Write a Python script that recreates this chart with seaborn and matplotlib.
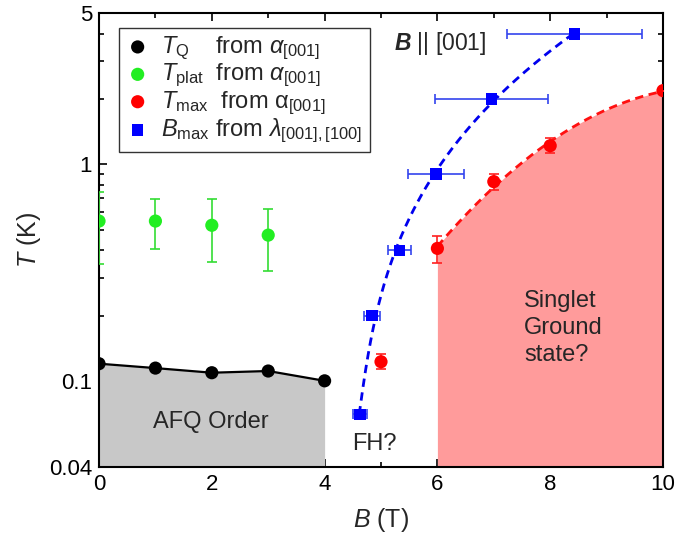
import numpy as np
import pandas as pd
import matplotlib
matplotlib.use("Agg")
import matplotlib.pyplot as plt
import seaborn as sns

# ---- data ----
tq_B = [0, 1, 2, 3, 4]
tq_T = [0.12, 0.1145, 0.109, 0.111, 0.100]

tp_B = [0, 1, 2, 3]
tp_T = [0.547, 0.547, 0.523, 0.471]
tp_lo = [0.346, 0.405, 0.354, 0.321]
tp_hi = [0.746, 0.689, 0.692, 0.620]

tm_B = [5, 6, 7, 8, 10]
tm_T = [0.1225, 0.409, 0.832, 1.219, 2.19]
tm_lo = [0.113, 0.349, 0.761, 1.124, 2.19]
tm_hi = [0.1325, 0.468, 0.899, 1.318, 2.19]

bm_B = [4.63, 4.835, 5.325, 5.975, 6.956, 8.43]
bm_T = [0.070, 0.200, 0.400, 0.900, 2.00, 4.00]
bm_xerr = [0.13, 0.145, 0.2, 0.5, 1.0, 1.2]

x_ticks = [0, 2, 4, 6, 8, 10]
y_ticks = [0.04, 0.1, 1, 5]
y_ticklabels = ["0.04", "0.1", "1", "5"]

sns.set_theme(style="ticks")
plt.rcParams['font.family'] = ['Liberation Sans', 'DejaVu Sans']
plt.rcParams['mathtext.fontset'] = 'custom'
plt.rcParams['mathtext.rm'] = 'Liberation Sans'
plt.rcParams['mathtext.it'] = 'Liberation Sans:italic'
plt.rcParams['mathtext.bf'] = 'Liberation Sans:bold:italic'

fig = plt.figure(figsize=(6.75, 5.47), dpi=100)
ax = fig.add_axes([0.1467, 0.1463, 0.8355, 0.8299])
ax.set_yscale('log')
ax.set_xlim(0, 10)
ax.set_ylim(0.04, 5)

# gray AFQ region
ax.fill_between(tq_B, tq_T, 0.04, color='#c8c8c8', lw=0, zorder=1)
ax.plot(tq_B, tq_T, color='black', lw=1.6, zorder=3)

# red singlet region (fit in log T vs B)
rB = np.array(tm_B[1:]); rT = np.log10(np.array(tm_T[1:]))
pr = np.polyfit(rB, rT, 2)
xs = np.linspace(6, 10, 200)
ys = 10 ** np.polyval(pr, xs)
ax.fill_between(xs, ys, 0.04, color='#ff9b9b', lw=0, zorder=1)
ax.plot(xs, ys, color='#ff1010', lw=2, ls=(0, (3, 2)), zorder=3)

# blue dashed curve (B as function of log T)
pb = np.polyfit(np.log10(bm_T), bm_B, 3)
lt = np.linspace(np.log10(bm_T[0]), np.log10(bm_T[-1]), 200)
ax.plot(np.polyval(pb, lt), 10 ** lt, color='#0000ee', lw=2, ls=(0, (3, 2)), zorder=3)

# error bars
ax.errorbar(tp_B, tp_T, yerr=[np.array(tp_T) - np.array(tp_lo), np.array(tp_hi) - np.array(tp_T)],
            fmt='none', ecolor='#33dd33', elinewidth=1.2, capsize=3.5, capthick=1.2, zorder=4)
ax.errorbar(tm_B, tm_T, yerr=[np.array(tm_T) - np.array(tm_lo), np.array(tm_hi) - np.array(tm_T)],
            fmt='none', ecolor='#ff2020', elinewidth=1.2, capsize=3.5, capthick=1.2, zorder=4)
ax.errorbar(bm_B, bm_T, xerr=bm_xerr, fmt='none', ecolor='#3344ee', elinewidth=1.2,
            capsize=3.5, capthick=1.2, zorder=4)

# points with seaborn
sns.scatterplot(x=tq_B, y=tq_T, ax=ax, color='black', s=90, marker='o', edgecolor='none', zorder=5,
                label=r'$T_{\rm Q}$    from $\alpha_{[001]}$')
sns.scatterplot(x=tp_B, y=tp_T, ax=ax, color='#22ee22', s=90, marker='o', edgecolor='none', zorder=5,
                label=r'$T_{\rm plat}$  from $\alpha_{[001]}$')
sns.scatterplot(x=tm_B, y=tm_T, ax=ax, color='#ff0000', s=90, marker='o', edgecolor='none', zorder=5,
                label=r'$T_{\rm max}$  from $\rm\alpha_{[001]}$')
sns.scatterplot(x=bm_B, y=bm_T, ax=ax, color='#0000ff', s=70, marker='s', edgecolor='none', zorder=5,
                label=r'$B_{\rm max}$ from $\lambda_{[001],[100]}$')

leg = ax.legend(loc='upper left', bbox_to_anchor=(0.035, 0.968), borderaxespad=0,
                fontsize=17, frameon=True, fancybox=False, edgecolor='black',
                handletextpad=0.5, labelspacing=0.0, borderpad=0.3, handlelength=1.0)
leg.get_frame().set_linewidth(1.0)
leg.set_zorder(10)

# annotations
ax.text(6.05, 3.63, r'$\mathbf{B}$ || [001]', fontsize=16.5, ha='center', va='center', zorder=6)
ax.text(1.99, 0.0645, 'AFQ Order', fontsize=17, ha='center', va='center', zorder=6)
ax.text(4.89, 0.0511, 'FH?', fontsize=17, ha='center', va='center', zorder=6)
ax.text(7.54, 0.175, 'Singlet\nGround\nstate?', fontsize=17, ha='left', va='center',
        linespacing=1.3, zorder=6)

ax.set_xticks(x_ticks)
ax.set_xticks([1, 3, 5, 7, 9], minor=True)
ax.set_yticks(y_ticks)
ax.set_yticklabels(y_ticklabels)
ax.tick_params(which='both', direction='in', top=True, right=True, labelsize=16,
               width=1.2, color='black', labelcolor='black')
ax.tick_params(which='major', length=6, pad=5)
ax.tick_params(which='minor', length=3.5)
ax.yaxis.set_minor_formatter(matplotlib.ticker.NullFormatter())
for s in ax.spines.values():
    s.set_linewidth(1.5)
    s.set_color('black')

ax.set_xlabel(r'$B$ (T)', fontsize=18, labelpad=8)
ax.set_ylabel(r'$T$ (K)', fontsize=18, labelpad=4)

fig.savefig('out.png', dpi=100)
